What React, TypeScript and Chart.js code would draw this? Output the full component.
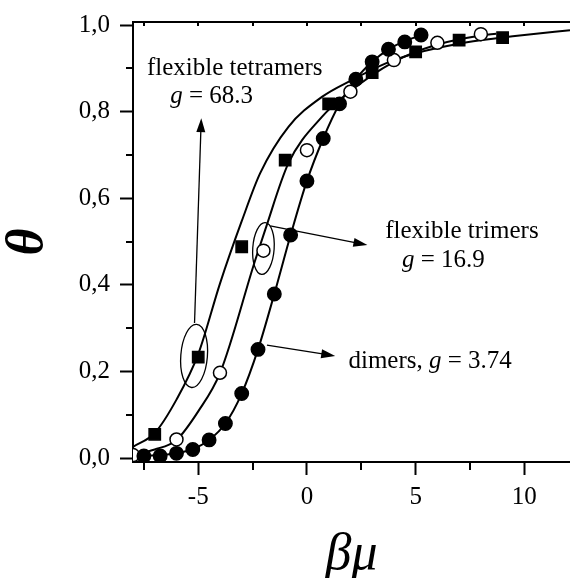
import React, { useEffect, useRef } from 'react';
import { Chart, registerables } from 'chart.js';

Chart.register(...registerables);

// ---- data ----
const dimerX = [-7.5, -6.75, -6, -5.25, -4.5, -3.75, -3, -2.25, -1.5, -0.75, 0, 0.75, 1.5, 2.25, 3, 3.75, 4.5, 5.25];
const dimerTheta = [0.005, 0.005, 0.011, 0.02, 0.042, 0.08, 0.149, 0.251, 0.379, 0.515, 0.64, 0.738, 0.818, 0.875, 0.915, 0.944, 0.961, 0.977];

const trimerX = [-8, -6, -4, -2, 0, 2, 4, 6, 8];
const trimerTheta = [0.007, 0.043, 0.197, 0.479, 0.711, 0.846, 0.919, 0.959, 0.979];

const tetramerX = [-7, -5, -3, -1, 1, 3, 5, 7, 9];
const tetramerTheta = [0.055, 0.233, 0.488, 0.688, 0.818, 0.89, 0.938, 0.965, 0.971];

// fitted curves
const dimerFitX = [-8, -7.5, -6.75, -6, -5.25, -4.5, -3.75, -3, -2.25, -1.5, -0.75, 0, 0.75, 1.5, 2.25, 3, 3.75, 4.5, 5.3];
const dimerFitTheta = [0.003, 0.005, 0.007, 0.011, 0.021, 0.042, 0.08, 0.149, 0.251, 0.379, 0.515, 0.64, 0.738, 0.818, 0.875, 0.915, 0.944, 0.963, 0.977];

const trimerFitX = [-8, -7, -6, -5, -4, -2.38, -1.92, -0.85, 0.69, 1.76, 4, 6, 8, 8.7];
const trimerFitTheta = [0.008, 0.02, 0.042, 0.108, 0.196, 0.457, 0.527, 0.681, 0.788, 0.838, 0.915, 0.955, 0.976, 0.98];

const tetramerFitX = [-8, -7, -6, -5, -4, -3, -2.15, -0.85, 0.69, 2.07, 3.6, 5, 7, 9, 10, 12.1];
const tetramerFitTheta = [0.026, 0.058, 0.135, 0.24, 0.403, 0.547, 0.658, 0.765, 0.834, 0.873, 0.911, 0.935, 0.957, 0.971, 0.977, 0.988];

const xMajorTicks = [-5, 0, 5, 10];
const xMinorTicks = [-7.5, -2.5, 2.5, 7.5];
const yMajorTicks = [0, 0.2, 0.4, 0.6, 0.8, 1.0];
const yMinorTicks = [0.1, 0.3, 0.5, 0.7, 0.9];

// annotation texts (data coordinates of left/baseline)
const labelTexts = [
  { x: -7.36, y: 0.885, runs: [{ t: 'flexible tetramers', i: false }] },
  { x: -6.29, y: 0.82, runs: [{ t: 'g', i: true }, { t: ' = 68.3', i: false }] },
  { x: 3.6, y: 0.508, runs: [{ t: 'flexible trimers', i: false }] },
  { x: 4.37, y: 0.441, runs: [{ t: 'g', i: true }, { t: ' = 16.9', i: false }] },
  { x: 1.91, y: 0.208, runs: [{ t: 'dimers, ', i: false }, { t: 'g', i: true }, { t: ' = 3.74', i: false }] },
];
const arrowFromX = [-5.17, -1.69, -1.84];
const arrowFromY = [0.312, 0.536, 0.261];
const arrowToX = [-4.86, 2.78, 1.3];
const arrowToY = [0.785, 0.492, 0.236];
const ellipseX = [-5.19, -2.0];
const ellipseY = [0.236, 0.484];
const ellipseRx = [13.3, 10.7];
const ellipseRy = [31.7, 26];
const ellipseRot = [0.08, 0.07];

const pts = (xs: number[], ys: number[]) => xs.map((x, i) => ({ x, y: ys[i] }));

const FONT = "'Liberation Serif', 'Times New Roman', serif";

const decorPlugin = {
  id: 'decor',
  afterDraw(chart: any) {
    const { ctx, chartArea: ca, scales } = chart;
    const xs = scales.x;
    const ys = scales.y;
    ctx.save();
    ctx.strokeStyle = '#000';
    ctx.fillStyle = '#000';
    // top axis line
    ctx.lineWidth = 2;
    ctx.beginPath();
    ctx.moveTo(ca.left - 1, ca.top);
    ctx.lineTo(ca.right, ca.top);
    ctx.stroke();
    // top inward ticks
    [...xMajorTicks, ...xMinorTicks].forEach((v) => {
      const px = Math.round(xs.getPixelForValue(v));
      ctx.beginPath();
      ctx.moveTo(px, ca.top);
      ctx.lineTo(px, ca.top + 4);
      ctx.stroke();
    });
    // minor ticks outside
    xMinorTicks.forEach((v) => {
      const px = Math.round(xs.getPixelForValue(v));
      ctx.beginPath();
      ctx.moveTo(px, ca.bottom);
      ctx.lineTo(px, ca.bottom + 8);
      ctx.stroke();
    });
    yMinorTicks.forEach((v) => {
      const py = Math.round(ys.getPixelForValue(v));
      ctx.beginPath();
      ctx.moveTo(ca.left, py);
      ctx.lineTo(ca.left - 7, py);
      ctx.stroke();
    });
    // ellipses
    ctx.lineWidth = 1.3;
    ellipseX.forEach((ex, i) => {
      ctx.beginPath();
      ctx.ellipse(xs.getPixelForValue(ex), ys.getPixelForValue(ellipseY[i]), ellipseRx[i], ellipseRy[i], ellipseRot[i], 0, Math.PI * 2);
      ctx.stroke();
    });
    // arrows
    arrowFromX.forEach((fx, i) => {
      const x1 = xs.getPixelForValue(fx);
      const y1 = ys.getPixelForValue(arrowFromY[i]);
      const x2 = xs.getPixelForValue(arrowToX[i]);
      const y2 = ys.getPixelForValue(arrowToY[i]);
      const ang = Math.atan2(y2 - y1, x2 - x1);
      const hl = 14;
      const hw = 4.5;
      ctx.lineWidth = 1.3;
      ctx.beginPath();
      ctx.moveTo(x1, y1);
      ctx.lineTo(x2 - Math.cos(ang) * hl * 0.8, y2 - Math.sin(ang) * hl * 0.8);
      ctx.stroke();
      ctx.beginPath();
      ctx.moveTo(x2, y2);
      ctx.lineTo(x2 - Math.cos(ang) * hl - Math.sin(ang) * hw, y2 - Math.sin(ang) * hl + Math.cos(ang) * hw);
      ctx.lineTo(x2 - Math.cos(ang) * hl + Math.sin(ang) * hw, y2 - Math.sin(ang) * hl - Math.cos(ang) * hw);
      ctx.closePath();
      ctx.fill();
    });
    // texts
    ctx.textBaseline = 'alphabetic';
    ctx.textAlign = 'left';
    labelTexts.forEach((lab) => {
      let px = xs.getPixelForValue(lab.x);
      const py = ys.getPixelForValue(lab.y);
      lab.runs.forEach((r) => {
        ctx.font = `${r.i ? 'italic ' : ''}25px ${FONT}`;
        ctx.fillText(r.t, px, py);
        px += ctx.measureText(r.t).width;
      });
    });
    ctx.restore();
  },
};

export default function App() {
  const ref = useRef<HTMLCanvasElement | null>(null);
  useEffect(() => {
    if (!ref.current) return;
    const markerCommon = { showLine: false, borderColor: '#000', borderWidth: 1.5, pointHoverRadius: 6 };
    const lineCommon = {
      showLine: true,
      borderColor: '#000',
      borderWidth: 2,
      pointRadius: 0,
      pointHoverRadius: 0,
      cubicInterpolationMode: 'monotone',
      fill: false,
    };
    const chart = new Chart(ref.current, {
      type: 'scatter',
      data: {
        datasets: [
          { label: 'dimers', data: pts(dimerX, dimerTheta), pointStyle: 'circle', pointRadius: 6.7, backgroundColor: '#000', ...markerCommon },
          { label: 'flexible trimers', data: pts(trimerX, trimerTheta), pointStyle: 'circle', pointRadius: 6.5, backgroundColor: '#fff', ...markerCommon },
          { label: 'flexible tetramers', data: pts(tetramerX, tetramerTheta), pointStyle: 'rect', pointRadius: 8, backgroundColor: '#000', ...markerCommon },
          { label: 'dimers fit', data: pts(dimerFitX, dimerFitTheta), ...lineCommon },
          { label: 'trimers fit', data: pts(trimerFitX, trimerFitTheta), ...lineCommon },
          { label: 'tetramers fit', data: pts(tetramerFitX, tetramerFitTheta), ...lineCommon },
        ] as any,
      },
      options: {
        animation: false,
        responsive: false,
        maintainAspectRatio: false,
        layout: { autoPadding: false, padding: { top: 22, right: 0, left: 0, bottom: 0 } },
        plugins: { legend: { display: false }, tooltip: { enabled: false } },
        scales: {
          x: {
            type: 'linear',
            min: -8,
            max: 12.1,
            afterBuildTicks: (s: any) => { s.ticks = xMajorTicks.map((v) => ({ value: v })); },
            afterFit: (s: any) => { s.height = 116; s.paddingLeft = 0; s.paddingRight = 0; },
            grid: { display: true, drawOnChartArea: false, drawTicks: true, tickLength: 13, tickWidth: 2, tickColor: '#000' },
            border: { display: true, color: '#000', width: 2 },
            ticks: { color: '#000', font: { family: FONT, size: 25 }, padding: 7, maxRotation: 0, callback: (v: any) => String(v) },
            title: { display: true, text: 'βμ', color: '#000', font: { family: FONT, size: 52, style: 'italic', lineHeight: 0.86 }, padding: { top: 0, bottom: 0 } },
          },
          y: {
            type: 'linear',
            min: -0.009,
            max: 1.007,
            afterBuildTicks: (s: any) => { s.ticks = yMajorTicks.map((v) => ({ value: v })); },
            afterFit: (s: any) => { s.width = 133; s.paddingTop = 0; s.paddingBottom = 0; },
            grid: { display: true, drawOnChartArea: false, drawTicks: true, tickLength: 13, tickWidth: 2, tickColor: '#000' },
            border: { display: true, color: '#000', width: 2 },
            ticks: { color: '#000', font: { family: FONT, size: 25 }, padding: 10, callback: (v: any) => Number(v).toFixed(1).replace('.', ',') },
            title: { display: true, text: 'θ', color: '#000', font: { family: FONT, size: 52, style: 'italic', weight: 'bold', lineHeight: 1 }, padding: { top: 3, bottom: 0 } },
          },
        },
      },
      plugins: [decorPlugin],
    } as any);
    return () => chart.destroy();
  }, []);
  return (
    <div style={{ position: 'fixed', left: 0, top: 0, width: 570, height: 578, background: '#fff' }}>
      <canvas ref={ref} width={570} height={578} style={{ display: 'block', width: 570, height: 578 }} />
    </div>
  );
}
